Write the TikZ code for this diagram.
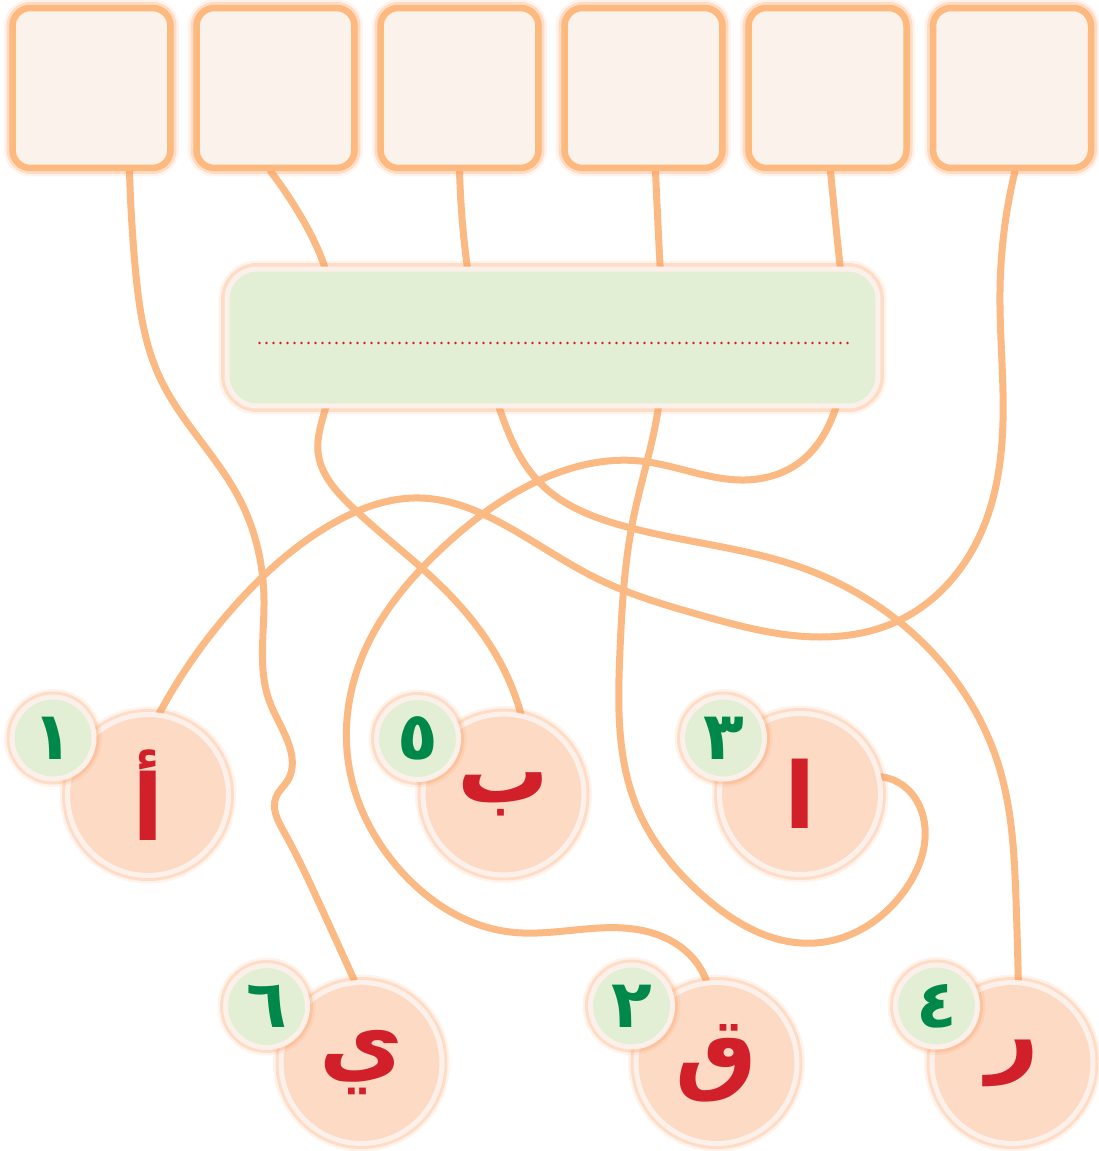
\documentclass[tikz,border=0pt]{standalone}
\usepackage{fontspec}
\newfontfamily\arabicfont[Script=Arabic]{DejaVu Sans}
\TeXXeTstate=1
\usetikzlibrary{calc,backgrounds,hobby}

\definecolor{ropeorange}{HTML}{FBB983}
\definecolor{tileline}{HTML}{FDB97E}
\definecolor{tilefill}{HTML}{FCF2EC}
\definecolor{halo}{HTML}{FD9E60}
\definecolor{rim}{HTML}{FCF0EA}
\definecolor{leaf}{HTML}{E3EFD4}
\definecolor{peach}{HTML}{FCDAC4}
\definecolor{letterred}{HTML}{D2202A}
\definecolor{digitgreen}{HTML}{00884A}

\tikzset{
  glow/.style={preaction={draw=halo, line width=#1+0.1cm, opacity=0.12},
    preaction={draw=halo, line width=#1, opacity=0.28}},
  glow/.default=0.22cm,
  tile/.style={glow=0.24cm, draw=tileline, line width=0.13cm, fill=tilefill,
    rounded corners=0.36cm, minimum width=3.16cm, minimum height=3.2cm},
  panel/.style={glow=0.24cm, draw=rim, line width=0.1cm, fill=leaf,
    rounded corners=0.6cm, minimum width=13.02cm, minimum height=2.74cm},
  letterdisc/.style={glow, circle, draw=rim, line width=0.1cm, fill=peach,
    minimum size=3.22cm, inner sep=0pt, text=letterred,
    font=\arabicfont\bfseries\fontsize{52}{58}\selectfont},
  numdisc/.style={glow, circle, draw=rim, line width=0.1cm, fill=leaf,
    minimum size=1.64cm, inner sep=0pt, text=digitgreen,
    font=\arabicfont\bfseries\fontsize{38}{42}\selectfont},
  rope/.style={draw=ropeorange, line width=0.14cm, line cap=round, line join=round},
  dotline/.style={draw=letterred, line width=0.055cm, line cap=round,
    dash pattern=on 0pt off 0.14cm}
}

\begin{document}
\begin{tikzpicture}[x=0.02cm, y=-0.02cm]
  \useasboundingbox (0,0) rectangle (1098,1151);

  % answer tiles
  \foreach \i/\x in {1/91.5, 2/275.5, 3/459.5, 4/643.5, 5/827.5, 6/1012}
    \node[tile] (t\i) at (\x,88) {};

  % word panel
  \node[panel] (word) at (552.5,337.5) {};
  \draw[dotline] ($(word.west)+(35,5.5)$) -- ($(word.east)+(-26,5.5)$);

  % letter discs
  \node[letterdisc] (alefh) at (148,795)    {\beginR أ\endR};
  \node[letterdisc] (baa)   at (503.5,794.5) {\beginR ب\endR};
  \node[letterdisc] (alef)  at (800,794)    {\beginR ا\endR};
  \node[letterdisc] (yaa)   at (361.5,1063) {\beginR ي\endR};
  \node[letterdisc] (qaf)   at (716.5,1063) {\beginR ق\endR};
  \node[letterdisc] (raa)   at (1012.5,1063) {\beginR ر\endR};

  % order numbers
  \node[numdisc] (n1) at (53,738)      {١};
  \node[numdisc] (n5) at (417.5,738.5) {٥};
  \node[numdisc] (n3) at (723.5,738)   {٣};
  \node[numdisc] (n6) at (266.5,1006.5) {٦};
  \node[numdisc] (n2) at (631.5,1006)  {٢};
  \node[numdisc] (n4) at (936.5,1006)  {٤};

  % start points under the tiles
  \coordinate (s1) at ($(t1.south)+(38,0)$);
  \coordinate (s2) at ($(t2.south)+(-5,0)$);
  \coordinate (s3) at ($(t3.south)+(0,0)$);
  \coordinate (s4) at ($(t4.south)+(12,0)$);
  \coordinate (s5) at ($(t5.south)+(3,0)$);
  \coordinate (s6) at ($(t6.south)+(3,0)$);

  % tangled strings
  \begin{scope}[on background layer]
    \draw[rope] (s1) to[curve through={(135,265) .. (160,378) .. (240,500)
      .. (264,600) .. (269,700) .. (288,742) .. (288,780) .. (276,797)
      .. (284,832) .. (320,905)}] (yaa.95);
    \draw[rope] (s2) to[curve through={(300,215) .. (324,265) .. (325,410)
      .. (318,452) .. (350,505) .. (440,585) .. (500,662)}] (baa.78);
    \draw[rope] (s3) to[curve through={(467,265) .. (500,410) .. (540,483)
      .. (620,525) .. (800,567) .. (930,650) .. (1000,770) .. (1016,900)}] (raa.86);
    \draw[rope] (s4) to[curve through={(660,265) .. (658,410) .. (633,520)
      .. (620,650) .. (638,810) .. (700,893) .. (815,943) .. (905,890)
      .. (925,828) .. (905,787)}] (alef.12);
    \draw[rope] (s5) to[curve through={(840,265) .. (835,410) .. (800,462)
      .. (745,480) .. (640,461) .. (540,480) .. (440,550) .. (365,650)
      .. (348,760) .. (400,870) .. (510,932) .. (640,930) .. (690,955)}] (qaf.97);
    \draw[rope] (s6) to[curve through={(1000,290) .. (1003,420) .. (980,535)
      .. (900,620) .. (820,637) .. (700,615) .. (600,580) .. (517,532)
      .. (420,498) .. (330,525) .. (240,600)}] (alefh.82);
  \end{scope}
\end{tikzpicture}
\end{document}
